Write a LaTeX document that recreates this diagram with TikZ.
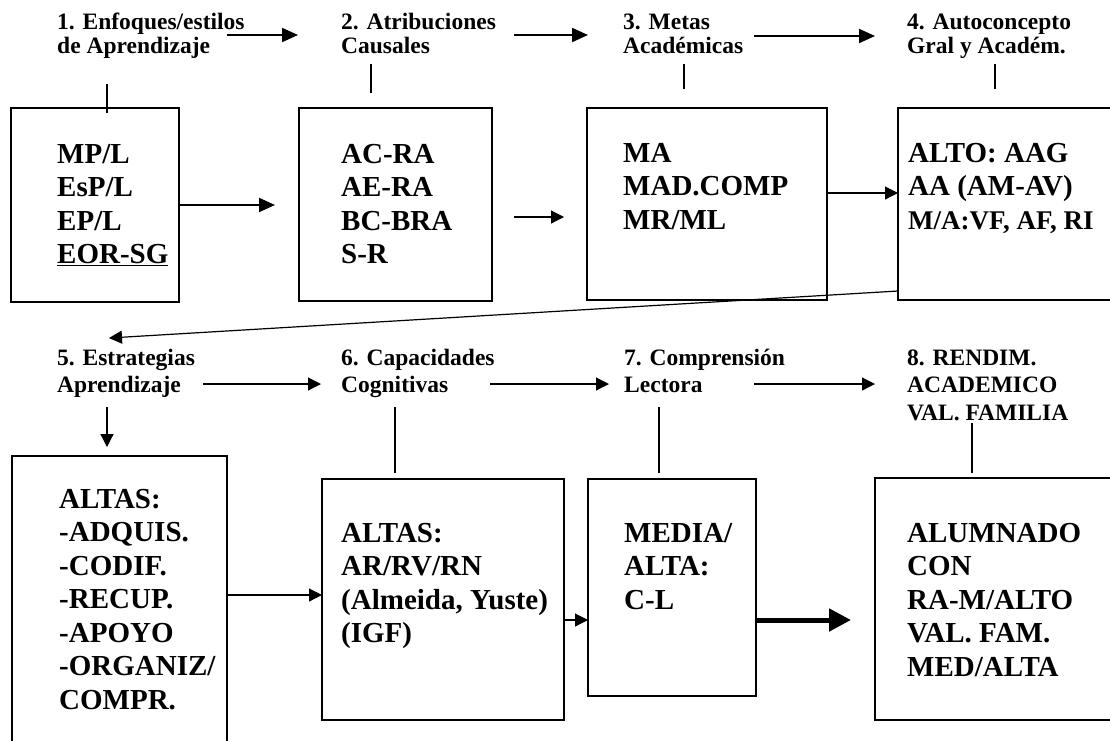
\documentclass[tikz,border=0pt]{standalone}
\usepackage{fontspec}
\setmainfont{Liberation Serif}
\usetikzlibrary{positioning,arrows.meta}
\newcommand{\pila}[1]{\begin{tabular}[t]{@{}l@{}}#1\end{tabular}}
\tikzset{titulo/.style={anchor=base west, inner sep=0pt, font=\bfseries\fontsize{23.5}{#1}\selectfont}, titulo/.default=24}
\tikzset{texto/.style={anchor=base west, inner sep=0pt, font=\bfseries\fontsize{29}{33.5}\selectfont}}
\tikzset{caja/.style={draw, line width=2pt, anchor=north west, inner sep=0pt, outer sep=0pt}}
\tikzset{flecha/.style={draw, line width=2pt, -{Triangle[length=16pt,width=14pt]}}}
\tikzset{flechafina/.style={draw, line width=1.2pt, -{Triangle[length=13pt,width=13pt]}}}
\tikzset{flechagorda/.style={draw, line width=5pt, -{Triangle[length=22pt,width=22pt]}}}
\tikzset{palito/.style={draw, line width=2pt}}
\tikzset{palitofino/.style={draw, line width=1.5pt}}
\begin{document}
\begin{tikzpicture}[x=1pt, y=-1pt]
	\useasboundingbox[fill=white] (0,0) rectangle (1110,740);
	\clip (0,0) rectangle (1110,740);
	% fila de arriba
	\node[titulo] (e1) at (57,29) {\pila{1. Enfoques/estilos\\de Aprendizaje}};
	\node[titulo] (e2) at (341,29) {\pila{2. Atribuciones\\Causales}};
	\node[titulo] (e3) at (623,29) {\pila{3. Metas\\Académicas}};
	\node[titulo] (e4) at (907,29) {\pila{4. Autoconcepto\\Gral y Académ.}};
	\node[caja, minimum width=168pt, minimum height=194pt] (c1) at (11,108) {};
	\node[caja, minimum width=193pt, minimum height=193pt] (c2) at (299,108) {};
	\node[caja, minimum width=240pt, minimum height=192pt] (c3) at (587,108) {};
	\node[caja, minimum width=232pt, minimum height=192pt] (c4) at (898,108) {};
	\node[texto] (t1) at (57,163) {\pila{MP/L\\EsP/L\\EP/L\\\underline{EOR-SG}}};
	\node[texto] (t2) at (341,163) {\pila{AC-RA\\AE-RA\\BC-BRA\\S-R}};
	\node[texto] (t3) at (623,162) {\pila{MA\\MAD.COMP\\MR/ML}};
	\node[texto] (t4) at (908,162) {\pila{ALTO: AAG\\AA (AM-AV)\\\fontsize{27}{33.5}\selectfont M/A:VF, AF, RI}};
	\draw[flecha] ([shift={(170,6)}]e1.base west) -- ([shift={(-43,6)}]e2.base west);
	\draw[flecha] ([shift={(173,6)}]e2.base west) -- ([shift={(-35,6)}]e3.base west);
	\draw[flecha] ([shift={(131,7)}]e3.base west) -- ([shift={(-32,7)}]e4.base west);
	\draw[palito] (c1.north west) ++(96,-24) -- ++(0,29);
	\draw[palito] (c2.north west) ++(72,-44) -- ++(0,29);
	\draw[palito] (c3.north west) ++(97,-44) -- ++(0,25);
	\draw[palito] (c4.north west) ++(97,-44) -- ++(0,25);
	\draw[flecha, shorten >=24pt] (c1.east |- 0,205) -- (c2.west |- 0,205);
	\draw[flechafina, shorten <=22pt, shorten >=23pt] (c2.east |- 0,217) -- (c3.west |- 0,217);
	\draw[flechafina] (c3.east |- 0,193) -- (c4.west |- 0,193);
	% fila de abajo
	\node[titulo=27.5] (e5) at (57,365) {\pila{5. Estrategias\\Aprendizaje}};
	\node[titulo=27.5] (e6) at (341,365) {\pila{6. Capacidades\\Cognitivas}};
	\node[titulo=27.5] (e7) at (624,365) {\pila{7. Comprensión\\Lectora}};
	\node[titulo=27.5] (e8) at (907,365) {\pila{8. RENDIM.\\ACADEMICO\\VAL. FAMILIA}};
	\coordinate (d5) at ([shift={(52,-27)}]e5.base west);
	\draw[flechafina] (c4.west |- 0,291) -- (d5);
	\node[caja, minimum width=215pt, minimum height=304pt] (c5) at (12,456) {};
	\node[caja, minimum width=242pt, minimum height=241pt] (c6) at (322,479) {};
	\node[caja, minimum width=168pt, minimum height=217pt] (c7) at (588,479) {};
	\node[caja, minimum width=255pt, minimum height=242pt] (c8) at (875,478) {};
	\node[texto] (t5) at (59,508) {\pila{ALTAS:\\-ADQUIS.\\-CODIF.\\-RECUP.\\-APOYO\\-ORGANIZ/\\COMPR.}};
	\node[texto] (t6) at (341,542) {\pila{ALTAS:\\AR/RV/RN\\(Almeida, Yuste)\\(IGF)}};
	\node[texto] (t7) at (624,542) {\pila{MEDIA/\\ALTA:\\C-L}};
	\node[texto] (t8) at (907,542) {\pila{ALUMNADO\\CON\\RA-M/ALTO\\VAL. FAM.\\MED/ALTA}};
	\draw[flechafina] ([shift={(146,19)}]e5.base west) -- ([shift={(-20,19)}]e6.base west);
	\draw[flechafina] ([shift={(149,19)}]e6.base west) -- ([shift={(-15,19)}]e7.base west);
	\draw[flechafina] ([shift={(130,19)}]e7.base west) -- ([shift={(-32,19)}]e8.base west);
	\draw[flechafina] (e5.base west) ++(50,42) -- ++(0,40);
	\draw[palitofino] (c6.north west) ++(73,-72) -- ++(0,66);
	\draw[palitofino] (c7.north west) ++(71,-72) -- ++(0,66);
	\draw[palitofino] (c8.north west) ++(97,-55) -- ++(0,50);
	\draw[flechafina] (c5.east |- 0,595) -- (c6.west |- 0,595);
	\draw[flechafina] (c6.east |- 0,620) -- (c7.west |- 0,620);
	\draw[flechagorda, shorten >=24pt] (c7.east |- 0,620) -- (c8.west |- 0,620);
\end{tikzpicture}
\end{document}
